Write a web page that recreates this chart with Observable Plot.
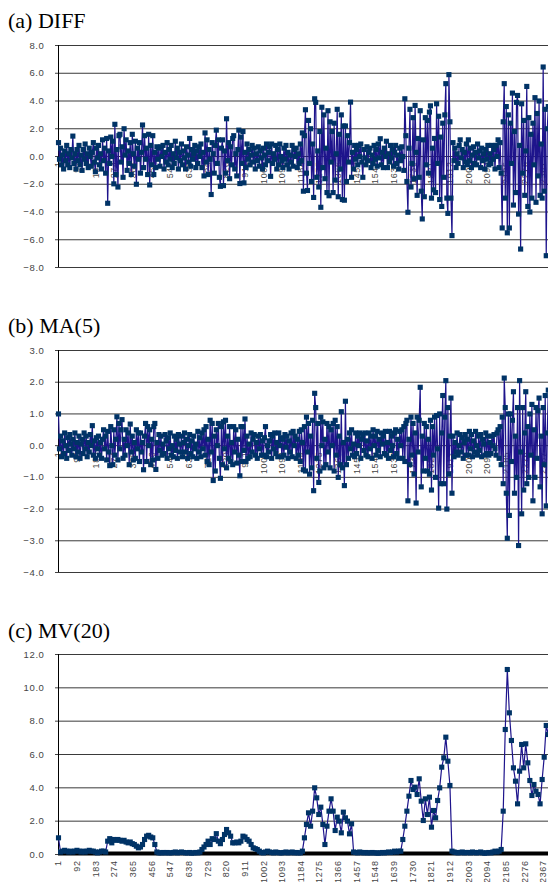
<!DOCTYPE html>
<html><head><meta charset="utf-8">
<script src="https://cdn.jsdelivr.net/npm/d3@7"></script>
<script src="https://cdn.jsdelivr.net/npm/@observablehq/plot@0.6"></script>
<style>
html,body{margin:0;padding:0;background:#fff}
body{width:548px;height:882px;overflow:hidden;position:relative}
.t{position:absolute;left:8px;font-family:"Liberation Serif","Times New Roman",serif;font-size:22px;line-height:22px;color:#000;white-space:nowrap}
.p{position:absolute;left:0}
.p svg text{letter-spacing:0.6px}
</style></head><body>
<div class="t" style="top:10px">(a) DIFF</div>
<div id="pa" class="p" style="top:35px"></div>
<div class="t" style="top:315px">(b) MA(5)</div>
<div id="pb" class="p" style="top:340px"></div>
<div class="t" style="top:620px">(c) MV(20)</div>
<div id="pc" class="p" style="top:644px"></div>
<script>
// sampling interval (in category index) of each series: the k-th value sits at index 1 + step*k
const diffStep = 5;
const maStep = 5;
const mvStep = 10;
const xTickLabels = [1,92,183,274,365,456,547,638,729,820,911,1002,1093,1184,1275,1366,1457,1548,1639,1730,1821,1912,2003,2094,2185,2276,2367];

const diffTicks = [-8,-6,-4,-2,0,2,4,6,8];
const maTicks = [-4,-3,-2,-1,0,1,2,3];
const mvTicks = [0,2,4,6,8,10,12];

const diffValues = [
 1.0,-0.2,0.6,-0.6,0.1,-0.9,0.4,-0.3,0.8,-0.6,0.2,-0.8,0.5,-0.1,1.47,-0.5,0.2,-0.9,0.5,-0.3,
 0.8,-0.6,0.1,-1.0,0.5,-0.2,0.9,-0.5,0.2,-0.8,0.6,0.0,-0.7,0.3,1.0,-0.4,-1.1,0.6,-0.1,0.8,
 -0.6,0.2,-0.9,1.2,-0.3,0.6,-1.2,1.3,-3.37,0.4,-0.5,1.4,0.0,1.1,-1.97,2.32,-1.3,0.5,-2.2,1.5,
 1.6,-0.4,0.7,-1.5,2.0,0.1,1.2,-1.0,0.4,-0.5,1.0,-1.3,1.6,0.2,-0.7,1.1,-2.0,0.6,-0.2,1.0,
 -1.2,0.3,2.27,-0.8,1.5,-0.2,0.6,-1.3,1.6,-2.05,0.8,-0.6,1.5,-1.3,0.3,-0.8,0.7,-0.2,0.6,-0.7,
 0.7,0.0,0.8,-0.9,0.3,-0.4,1.0,-0.6,0.5,-0.2,0.8,-0.8,0.2,-0.5,1.1,-0.1,0.6,-0.9,0.3,-0.3,
 0.9,-0.6,0.4,-0.1,-0.9,0.7,0.1,-0.4,1.3,-0.7,0.5,-0.2,0.2,0.8,-0.8,0.4,-0.5,0.7,0.0,0.9,
 -0.8,0.3,-1.4,1.7,-0.4,1.2,-1.3,0.5,-0.2,-2.74,1.0,0.2,-1.2,0.8,1.9,-0.5,1.2,-1.5,-2.15,0.6,
 1.2,-2.1,0.4,-1.2,2.72,-0.3,1.0,-1.6,0.7,-0.6,1.3,1.5,-0.9,0.2,-1.4,0.5,1.9,-1.95,1.4,-0.5,
 1.8,-1.9,0.3,-0.8,0.9,-0.2,0.5,-0.6,0.1,0.8,-0.4,0.6,-0.9,0.2,-0.3,0.7,-0.7,0.4,-0.1,-0.9,
 0.6,0.1,-0.6,0.9,-0.3,0.3,0.7,-1.43,0.9,-0.5,0.2,-0.2,0.8,-0.9,0.5,-0.6,0.9,0.0,-0.3,-0.8,
 0.6,-0.2,0.8,-0.6,0.3,-0.9,0.1,-0.4,0.8,-0.7,0.5,0.0,0.6,-0.8,0.2,-0.5,0.9,-0.3,1.7,-2.5,
 1.5,3.37,-1.2,-2.45,2.6,-0.5,2.0,-1.8,0.9,-2.95,4.16,3.9,-1.5,0.4,-2.2,1.8,-3.66,3.55,-0.8,3.0,
 -1.6,0.6,-2.6,3.3,-2.83,2.5,-0.4,1.8,-2.6,2.4,-1.7,0.2,3.4,-2.9,1.6,-0.9,3.0,-3.1,2.2,-3.15,
 2.2,-1.8,1.5,-0.4,1.0,3.92,-1.5,0.3,-0.9,0.8,-0.2,0.5,-0.6,0.8,0.0,0.9,-0.4,-1.5,0.5,-0.1,
 -0.6,0.7,-0.3,0.3,0.6,-0.8,0.1,-0.5,0.8,-0.2,0.5,-0.7,0.9,-0.1,1.28,-0.6,0.3,-0.8,0.6,0.0,
 1.1,-0.8,0.2,-0.4,0.8,-0.1,0.5,-0.7,0.3,0.8,-0.5,0.1,-0.9,0.6,-0.3,0.7,0.0,-1.0,4.16,1.5,
 -1.8,-4.02,0.6,3.4,-2.2,-0.5,2.8,-1.6,3.68,0.3,-2.8,1.3,-1.5,3.3,-2.5,-4.5,1.2,-2.9,2.8,-0.6,
 2.6,-1.2,3.2,3.65,-3.0,0.6,-2.4,1.3,-2.6,3.8,-0.5,2.9,-3.1,1.4,-3.6,2.4,-1.5,3.0,5.25,-3.0,
 -4.1,5.9,2.5,-3.0,-5.7,1.0,-0.3,0.6,-0.8,0.2,-0.5,0.8,1.2,-0.1,0.5,-0.8,0.3,-0.4,0.9,-0.6,
 1.2,-0.3,0.6,-0.8,0.1,0.7,-0.5,0.3,-0.6,0.9,-0.1,0.4,-0.8,0.6,-0.3,0.2,-0.9,0.5,-0.2,0.8,
 -0.6,0.2,-0.5,0.8,-0.2,0.5,-0.9,0.8,0.0,1.2,-0.8,1.0,-1.2,-5.15,2.5,5.25,-3.0,3.6,-5.5,3.0,
 -5.15,2.4,-0.5,4.57,-3.5,1.8,-2.6,3.9,4.4,-4.15,0.8,-6.67,3.8,-1.2,2.6,-2.8,0.4,5.05,-3.6,2.8,
 -4.0,1.6,-3.0,2.4,-0.6,4.24,-3.3,3.1,-1.4,4.0,-2.8,0.9,-3.0,6.45,-2.5,3.4,-7.15,2.0,3.6
];

const maValues = [
 1.0,-0.1,0.3,-0.35,0.15,-0.25,0.4,0.0,-0.4,0.25,-0.15,0.35,0.05,-0.3,0.2,-0.1,0.4,-0.35,0.1,-0.2,
 0.3,-0.4,0.05,0.2,-0.25,0.4,-0.1,0.3,-0.35,0.1,-0.2,0.35,0.0,0.63,-0.3,0.15,-0.4,0.25,-0.1,0.3,
 -0.3,0.1,-0.4,0.2,0.5,-0.1,0.3,-0.45,0.45,-0.2,-0.63,0.6,0.0,-0.6,0.5,-0.3,0.2,0.91,-0.45,0.7,
 -0.1,0.5,0.82,-0.4,0.2,-0.3,0.5,0.0,0.4,-0.6,0.68,-0.2,0.3,-0.45,0.1,-0.4,0.5,-0.1,0.4,-0.5,
 0.4,-0.2,0.1,-0.76,0.3,0.7,-0.5,0.6,0.0,0.5,-0.6,0.2,-0.45,0.6,0.7,-0.75,0.1,-0.4,0.35,-0.15,
 0.3,-0.3,0.05,-0.25,0.35,0.15,-0.4,0.25,-0.1,0.4,-0.3,0.0,-0.35,0.3,-0.15,0.2,-0.4,0.35,0.05,-0.2,
 0.3,-0.35,0.1,0.4,-0.2,0.2,-0.4,0.0,0.35,-0.25,0.15,-0.35,0.3,-0.1,0.05,-0.4,0.45,-0.2,0.25,-0.35,
 0.4,-0.1,0.5,-0.3,0.6,-0.5,0.2,-0.6,0.8,-0.2,0.7,-1.1,0.3,-0.8,0.5,0.0,0.7,-0.4,-1.03,0.6,
 -0.6,0.75,-0.1,0.8,-0.7,0.3,-0.4,0.6,-0.5,0.1,-0.6,0.6,-0.2,0.5,-0.55,0.2,-0.3,-0.95,0.6,-0.5,
 0.6,-0.15,0.84,-0.5,0.3,-0.4,0.05,-0.35,0.4,-0.2,0.2,0.35,-0.3,0.1,-0.4,0.3,-0.1,0.35,-0.3,0.15,
 -0.3,0.25,0.6,-0.35,0.0,-0.2,0.15,0.35,-0.4,0.3,-0.1,0.4,-0.25,0.1,-0.35,0.4,0.0,0.25,-0.35,0.2,
 -0.3,0.35,-0.05,0.3,-0.4,0.15,-0.2,0.4,-0.35,0.45,0.0,0.3,-0.4,0.2,-0.3,0.45,-0.5,0.5,0.1,-0.76,
 0.6,-0.8,0.9,-0.2,0.7,-0.9,0.3,-0.7,0.8,-1.42,1.65,1.2,-0.4,0.7,-1.16,-0.8,0.9,0.0,0.75,-0.7,
 0.2,-0.6,0.7,-0.2,0.6,-0.7,0.5,0.0,0.7,-0.8,0.8,-0.3,0.6,-1.0,0.3,-0.6,1.07,-0.7,0.1,-1.26,
 1.4,-0.6,0.2,-0.4,0.4,-0.1,0.5,-0.3,0.05,-0.35,0.4,-0.25,0.3,0.0,0.4,-0.4,0.2,0.35,-0.15,0.4,
 -0.3,0.15,-0.35,0.4,-0.1,0.3,-0.4,0.5,0.0,0.3,-0.3,0.45,-0.15,0.2,-0.35,0.4,0.05,0.3,-0.25,0.45,
 -0.3,0.1,-0.4,0.45,-0.15,0.3,0.0,-0.35,0.4,0.5,-0.25,0.2,-0.4,0.45,0.0,0.5,-0.4,0.6,-0.5,0.7,
 0.8,-1.74,0.2,-0.6,0.9,-0.3,0.7,-0.9,0.4,-1.81,0.9,-0.2,0.8,1.84,-1.3,0.3,-0.8,0.7,-0.4,0.6,
 -0.8,0.2,-0.9,0.8,-1.4,0.6,-0.3,0.9,-1.0,0.95,-0.1,-1.97,1.0,-1.2,0.4,1.58,-1.2,0.9,2.05,-2.0,
 1.2,-0.9,0.3,1.5,-1.5,0.3,-0.35,0.1,-0.2,0.4,-0.3,0.0,0.35,-0.2,0.25,-0.4,0.1,0.35,-0.3,0.2,
 -0.3,0.45,-0.1,0.35,-0.35,0.15,-0.2,0.45,0.0,-0.3,0.3,-0.15,0.35,-0.35,0.2,0.05,-0.3,0.4,-0.25,0.3,
 -0.3,0.1,-0.25,0.3,0.0,0.35,-0.1,-0.3,0.4,0.5,-0.4,0.6,-0.6,0.9,-1.2,2.13,1.2,-1.5,-2.92,1.0,
 -2.2,1.0,-0.5,0.8,1.7,-1.5,0.3,-1.0,1.2,-3.15,2.05,-0.2,-2.15,1.2,-1.4,0.4,1.7,-1.2,0.6,-1.0,
 1.0,-0.3,1.3,-1.74,0.5,-1.0,1.2,-0.4,1.1,1.5,-1.3,0.3,-2.15,1.2,-0.6,1.58,-1.9,0.4,1.75
];

const mvValues = [
 1.0,0.15,0.2,0.25,0.2,0.15,0.2,0.15,0.2,0.25,
 0.2,0.15,0.2,0.15,0.2,0.25,0.2,0.2,0.15,0.1,
 0.15,0.2,0.2,0.15,0.8,0.95,0.7,0.9,0.85,0.9,
 0.85,0.8,0.85,0.75,0.7,0.75,0.65,0.6,0.5,0.4,
 0.45,0.6,0.9,1.1,1.15,1.05,1.0,0.6,0.15,0.1,
 0.1,0.12,0.1,0.12,0.1,0.1,0.12,0.15,0.1,0.12,
 0.15,0.12,0.1,0.1,0.12,0.08,0.1,0.12,0.1,0.15,
 0.3,0.45,0.6,0.8,0.6,0.95,0.9,1.25,0.8,0.65,
 0.9,1.2,1.5,1.3,1.1,0.7,0.7,0.75,0.7,0.8,
 1.1,1.05,0.9,0.8,0.6,0.4,0.35,0.3,0.2,0.12,
 0.1,0.15,0.2,0.15,0.12,0.1,0.15,0.12,0.1,0.1,
 0.12,0.15,0.1,0.12,0.15,0.1,0.12,0.1,0.1,0.2,
 1.0,1.8,2.5,1.7,2.6,4.0,3.4,2.4,2.84,1.8,
 0.6,1.7,2.6,3.34,2.6,1.44,2.24,2.0,1.3,2.54,
 2.2,2.0,1.24,1.84,0.15,0.12,0.1,0.15,0.12,0.1,
 0.12,0.1,0.1,0.12,0.1,0.1,0.08,0.1,0.12,0.1,
 0.12,0.15,0.12,0.15,0.2,0.15,0.2,0.2,0.9,1.7,
 2.6,3.5,4.44,3.9,4.04,3.6,4.54,3.2,2.04,3.34,
 2.4,3.44,1.64,2.64,2.2,3.24,4.0,5.24,5.8,7.04,
 5.6,4.14,0.2,0.15,0.12,0.1,0.12,0.15,0.1,0.12,
 0.12,0.1,0.15,0.12,0.1,0.12,0.15,0.1,0.08,0.1,
 0.12,0.1,0.15,0.2,0.15,0.2,0.3,2.6,7.5,11.1,
 8.5,6.84,5.2,4.4,3.04,5.0,6.6,5.2,6.64,5.5,
 4.44,3.54,4.2,3.8,3.6,3.04,4.5,5.84,7.74,7.2
];

function toRows(values, step){ return values.map((v,k)=>({i: 1 + step*k, v})); }
const fmt = d => (d < 0 ? "\u2212" : "") + Math.abs(d).toFixed(1);

function panel(id, values, step, yTicks, o){
  const rows = toRows(values, step);
  const y0 = yTicks[0], y1 = yTicks[yTicks.length-1];
  const marks = [
    Plot.ruleY(yTicks, {stroke:"#3a3a3a", strokeWidth:1}),
    Plot.text(xTickLabels, {x:d=>d, y:()=>0, text:d=>String(d), rotate:-90, textAnchor:"end", lineAnchor:"middle", dy:o.labelDy, fontSize:9, fill:"#444"}),
    Plot.ruleX([1], {y1:y0, y2:y1, stroke:"#000", strokeWidth:1})
  ];
  if (o.baseline) marks.push(Plot.ruleY([0], {stroke:"#000", strokeWidth:4, dy:-1}));
  marks.push(Plot.line(rows, {x:"i", y:"v", stroke:"#1e148c", strokeWidth:1.2}));
  marks.push(Plot.dot(rows, {x:"i", y:"v", symbol:"square", r:2.9, fill:"#003366", stroke:"none"}));
  const chart = Plot.plot({
    width:548, height:o.height,
    marginLeft:58, marginRight:0, marginTop:10, marginBottom:o.mb,
    x:{domain:[1,2392], axis:null},
    y:{domain:[y0,y1], ticks:yTicks, tickFormat:fmt, tickSize:3, tickPadding:11, label:null},
    style:{fontFamily:"'Liberation Sans', Arial, sans-serif", fontSize:"9.5px", color:"#444", background:"transparent", overflow:"visible"},
    marks
  });
  document.getElementById(id).appendChild(chart);
}

panel("pa", diffValues, diffStep, diffTicks, {height:250, mb:18, labelDy:5});
panel("pb", maValues, maStep, maTicks, {height:240, mb:8, labelDy:6});
panel("pc", mvValues, mvStep, mvTicks, {height:238, mb:28, labelDy:6, baseline:true});
</script>
</body></html>
